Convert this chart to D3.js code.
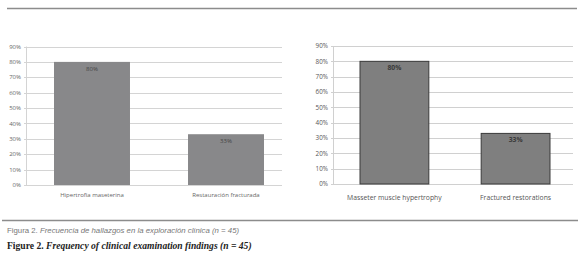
<!DOCTYPE html>
<html>
<head>
<meta charset="utf-8">
<script src="https://cdn.jsdelivr.net/npm/d3@7"></script>
<style>
  body { margin: 0; background: #fff; }
  svg { display: block; }
</style>
</head>
<body>
<svg id="chart" width="580" height="259"></svg>
<script>
const categoriesEs = ["Hipertrofia maseterina", "Restauración fracturada"];
const categoriesEn = ["Masseter muscle hypertrophy", "Fractured restorations"];
const values = [80, 33];
const valueLabels = ["80%", "33%"];
const yTicks = [0, 10, 20, 30, 40, 50, 60, 70, 80, 90];

const svg = d3.select("#chart");

// rules top and bottom
svg.append("line").attr("x1", 7).attr("x2", 577).attr("y1", 8.5).attr("y2", 8.5)
    .attr("stroke", "#8c8c8c").attr("stroke-width", 1.6);
svg.append("line").attr("x1", 2).attr("x2", 578).attr("y1", 220.5).attr("y2", 220.5)
    .attr("stroke", "#8c8c8c").attr("stroke-width", 1.6);

function drawChart(opts) {
    const g = svg.append("g");

    const y = d3.scaleLinear().domain([0, 90]).range([opts.bottom, opts.top]);
    const x = d3.scaleBand()
        .domain(opts.categories)
        .range(opts.barRange)
        .paddingInner(opts.padInner)
        .paddingOuter(0);

    // gridlines
    g.selectAll("line.grid")
        .data(yTicks)
        .enter()
        .append("line")
        .attr("class", "grid")
        .attr("x1", opts.left - 2)
        .attr("x2", opts.right)
        .attr("y1", d => Math.round(y(d)) + 0.5)
        .attr("y2", d => Math.round(y(d)) + 0.5)
        .attr("stroke", opts.gridColor)
        .attr("stroke-width", 1);

    // y axis line
    g.append("line")
        .attr("x1", opts.left + 0.5).attr("x2", opts.left + 0.5)
        .attr("y1", y(90)).attr("y2", y(0))
        .attr("stroke", opts.gridColor);

    // tick labels
    g.selectAll("text.tick")
        .data(yTicks)
        .enter()
        .append("text")
        .attr("class", "tick")
        .attr("x", opts.left - 5)
        .attr("y", d => y(d))
        .attr("dy", "0.35em")
        .attr("text-anchor", "end")
        .style("font-family", "'Open Sans', sans-serif")
        .style("font-size", opts.tickSize)
        .style("fill", opts.textColor)
        .text(d => d + "%");

    // bars
    g.selectAll("rect.bar")
        .data(values)
        .enter()
        .append("rect")
        .attr("class", "bar")
        .attr("x", (d, i) => x(opts.categories[i]))
        .attr("y", d => y(d))
        .attr("width", x.bandwidth())
        .attr("height", d => y(0) - y(d))
        .attr("fill", opts.barFill)
        .attr("stroke", opts.barStroke)
        .attr("stroke-width", opts.barStroke === "none" ? 0 : 1);

    // value labels
    g.selectAll("text.val")
        .data(values)
        .enter()
        .append("text")
        .attr("class", "val")
        .attr("x", (d, i) => x(opts.categories[i]) + x.bandwidth() / 2)
        .attr("y", d => y(d) + 9)
        .attr("text-anchor", "middle")
        .style("font-family", "'Open Sans', sans-serif")
        .style("font-size", opts.valSize)
        .style("font-weight", opts.valWeight)
        .style("fill", opts.valColor)
        .text((d, i) => valueLabels[i]);

    // category labels
    g.selectAll("text.cat")
        .data(opts.categories)
        .enter()
        .append("text")
        .attr("class", "cat")
        .attr("x", d => x(d) + x.bandwidth() / 2)
        .attr("y", opts.catY)
        .attr("text-anchor", "middle")
        .style("font-family", "'Open Sans', sans-serif")
        .style("font-size", opts.catSize)
        .style("fill", opts.textColor)
        .text(d => d);
}

drawChart({
    categories: categoriesEs,
    left: 26, right: 282, top: 46.5, bottom: 185,
    barRange: [54, 264], padInner: 0.433,
    gridColor: "#d4d4d4", barFill: "#88888a", barStroke: "none",
    textColor: "#666", valColor: "#444", valSize: "6px", valWeight: "normal",
    tickSize: "6px", catY: 196.5, catSize: "6px"
});

drawChart({
    categories: categoriesEn,
    left: 333, right: 573, top: 46, bottom: 184,
    barRange: [360, 550], padInner: 0.432,
    gridColor: "#d0d0d0", barFill: "#7f7f7f", barStroke: "#3a3a3a",
    textColor: "#555", valColor: "#3a3a3a", valSize: "6.8px", valWeight: "bold",
    tickSize: "6.3px", catY: 199.5, catSize: "6.8px"
});

// captions
const cap1 = svg.append("text").attr("x", 7).attr("y", 233)
    .style("font-family", "'Liberation Sans', Arial, sans-serif")
    .style("font-size", "7.8px").style("fill", "#777");
cap1.append("tspan").text("Figura 2. ");
cap1.append("tspan").style("font-style", "italic").text("Frecuencia de hallazgos en la exploración clínica (n = 45)");

const cap2 = svg.append("text").attr("x", 7).attr("y", 249)
    .style("font-family", "'Liberation Serif', 'Times New Roman', serif")
    .style("font-size", "9.6px").style("font-weight", "bold").style("fill", "#222");
cap2.append("tspan").text("Figure 2. ");
cap2.append("tspan").style("font-style", "italic").text("Frequency of clinical examination findings (n = 45)");
</script>
</body>
</html>
